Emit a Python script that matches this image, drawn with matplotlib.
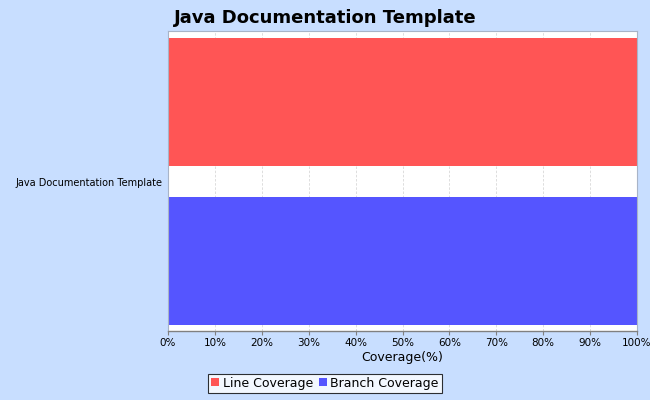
import matplotlib
matplotlib.use('agg')
import matplotlib.pyplot as plt
from matplotlib.ticker import PercentFormatter

# Data
category = 'Java Documentation Template'
series = ['Line Coverage', 'Branch Coverage']
values = [100, 100]
colors = ['#FF5555', '#5555FF']

BG = '#C8DEFF'

fig = plt.figure(figsize=(6.5, 4), dpi=100, facecolor=BG)
ax = fig.add_axes([168 / 650, 69 / 400, 469 / 650, 300 / 400])
ax.set_facecolor('white')

# bar layout (in bar-height units)
gap = 31 / 128
centers = [0.5 + gap / 2, -(0.5 + gap / 2)]
for name, v, c, y in zip(series, values, colors, centers):
    ax.barh(y, v, height=1.0, color=c, label=name, zorder=2)

ax.set_ylim(centers[1] - 0.5 - 6 / 128, centers[0] + 0.5 + 7 / 128)
ax.set_xlim(0, 100)
ax.set_yticks([0])
ax.set_yticklabels([category], fontsize=7)
ax.set_xticks(range(0, 101, 10))
ax.xaxis.set_major_formatter(PercentFormatter(decimals=0))
ax.tick_params(axis='x', labelsize=7.5, length=3, color='#808080', pad=2)
ax.tick_params(axis='y', length=0, pad=4)
ax.grid(axis='x', color='#D8D8D8', linestyle=(0, (3, 2)), linewidth=0.6, zorder=1)

for s in ['top', 'right', 'left']:
    ax.spines[s].set_color('#A8B4C8')
    ax.spines[s].set_linewidth(0.8)
ax.spines['bottom'].set_color('#808080')
ax.spines['bottom'].set_linewidth(1.0)

ax.set_xlabel('Coverage(%)', fontsize=9, labelpad=2)
fig.suptitle('Java Documentation Template', fontsize=13, fontweight='bold',
             x=0.5, y=0.977)

leg = fig.legend(loc='lower center', bbox_to_anchor=(0.5, 0.018), ncol=2,
                 fontsize=9, frameon=True, fancybox=False, handlelength=0.6,
                 handleheight=0.6, handletextpad=0.3, columnspacing=0.5,
                 borderpad=0.25, borderaxespad=0)
leg.get_frame().set_edgecolor('black')
leg.get_frame().set_linewidth(0.8)

plt.savefig('out.png', dpi=100, facecolor=BG)
